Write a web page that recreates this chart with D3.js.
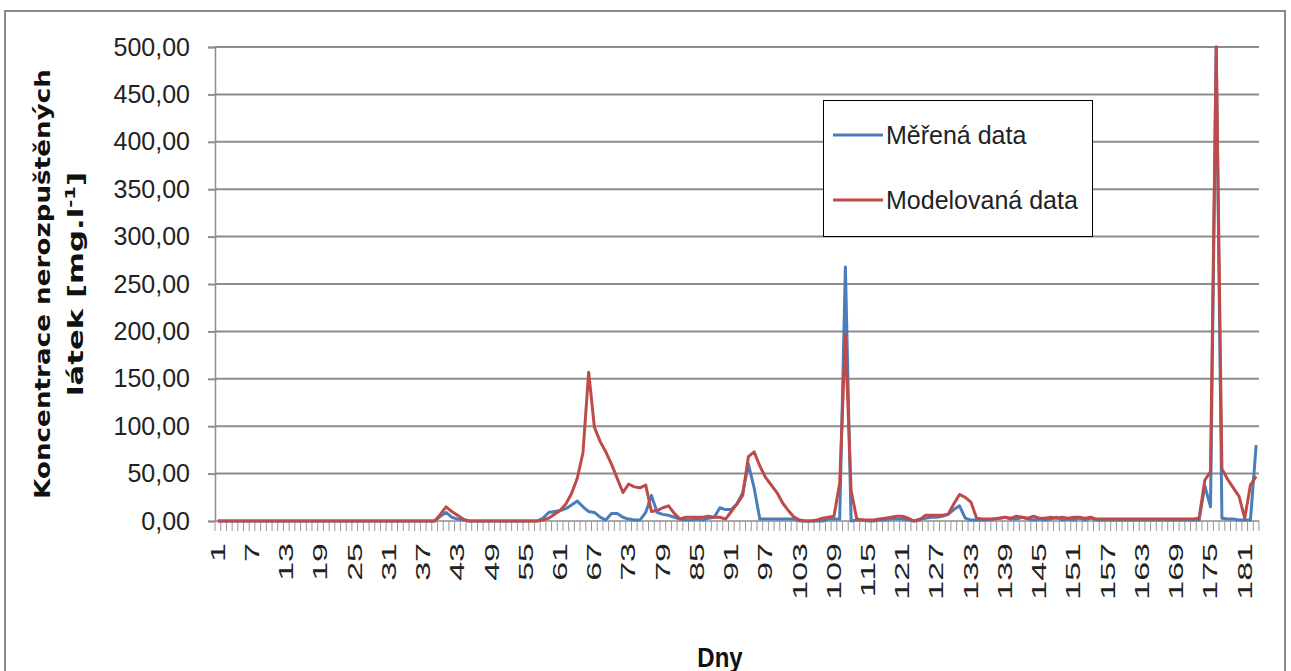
<!DOCTYPE html>
<html>
<head>
<meta charset="utf-8">
<script src="https://cdn.jsdelivr.net/npm/d3@7/dist/d3.min.js"></script>
<style>
  html, body { margin: 0; padding: 0; background: #fff; }
  svg { display: block; }
</style>
</head>
<body>
<svg id="chart" width="1291" height="671"></svg>
<script>
// Day numbers on the category axis
const days = d3.range(1, 184);
// Labelled days (every sixth day)
const dayLabels = [1, 7, 13, 19, 25, 31, 37, 43, 49, 55, 61, 67, 73, 79, 85, 91, 97, 103, 109, 115, 121, 127, 133, 139, 145, 151, 157, 163, 169, 175, 181];
// Value axis ticks
const yTicks = [0, 50, 100, 150, 200, 250, 300, 350, 400, 450, 500];

// Měřená data (measured suspended solids concentration, mg/l), days 1–183
const measured = [
  0, 0, 0, 0, 0, 0, 0, 0, 0, 0,
  0, 0, 0, 0, 0, 0, 0, 0, 0, 0,
  0, 0, 0, 0, 0, 0, 0, 0, 0, 0,
  0, 0, 0, 0, 0, 0, 0, 0, 0, 5,
  9, 4, 2, 1, 0, 0, 0, 0, 0, 0,
  0, 0, 0, 0, 0, 0, 0, 3, 9, 10,
  11, 13, 17, 21, 15, 10, 9, 4, 1, 8,
  8, 4, 2, 1, 1, 9, 27, 9, 7, 6,
  4, 2, 1, 1, 2, 1, 3, 4, 14, 12,
  12, 18, 30, 60, 35, 2, 2, 2, 2, 2,
  2, 2, 0, 0, 0, 0, 0, 2, 2, 2,
  268, 0, 1, 1, 0, 0, 1, 1, 2, 2,
  2, 1, 0, 2, 3, 4, 4, 5, 7, 12,
  16, 3, 1, 1, 1, 1, 2, 3, 4, 2,
  2, 4, 2, 1, 2, 1, 2, 4, 1, 2,
  1, 3, 1, 3, 1, 1, 1, 1, 1, 1,
  1, 1, 1, 1, 1, 1, 1, 1, 1, 1,
  1, 1, 1, 37, 15, 500, 3, 2, 2, 1,
  1, 1, 80
];

// Modelovaná data (modelled concentration, mg/l), days 1–183
const modelled = [
  0, 0, 0, 0, 0, 0, 0, 0, 0, 0,
  0, 0, 0, 0, 0, 0, 0, 0, 0, 0,
  0, 0, 0, 0, 0, 0, 0, 0, 0, 0,
  0, 0, 0, 0, 0, 0, 0, 0, 0, 7,
  15, 10, 6, 2, 0, 0, 0, 0, 0, 0,
  0, 0, 0, 0, 0, 0, 0, 1, 3, 7,
  11, 18, 29, 45, 72, 157, 99, 84, 73, 60,
  45, 30, 39, 36, 35, 38, 10, 11, 14, 16,
  8, 2, 4, 4, 4, 4, 5, 4, 4, 2,
  10, 18, 27, 68, 73, 58, 46, 38, 30, 19,
  11, 4, 1, 0, 0, 1, 3, 4, 5, 40,
  196, 32, 2, 1, 1, 1, 2, 3, 4, 5,
  5, 3, 0, 1, 6, 6, 6, 6, 7, 18,
  28, 25, 20, 3, 2, 2, 2, 3, 4, 3,
  5, 4, 3, 5, 3, 3, 4, 3, 4, 3,
  4, 4, 3, 4, 2, 2, 2, 2, 2, 2,
  2, 2, 2, 2, 2, 2, 2, 2, 2, 2,
  2, 2, 3, 43, 52, 500, 55, 44, 35, 26,
  3, 38, 47
];

const seriesNames = ["Měřená data", "Modelovaná data"];
const seriesColors = ["#4a7ebb", "#be4b48"];

const svg = d3.select("#chart");
const plot = { left: 215, right: 1259, top: 47, bottom: 521 };
const gridColor = "#8c8c8c";

// Outer chart frame
svg.append("rect")
  .attr("x", 5).attr("y", 11)
  .attr("width", 1280).attr("height", 700)
  .attr("fill", "#fff")
  .attr("stroke", "#8a8a8a").attr("stroke-width", 2);

const x = d3.scaleBand().domain(days).range([plot.left, plot.right]).padding(0);
const cx = d => x(d) + x.bandwidth() / 2;
const y = d3.scaleLinear().domain([0, 500]).range([plot.bottom, plot.top]);

// Horizontal gridlines
svg.append("g")
  .selectAll("line")
  .data(yTicks.filter(t => t > 0))
  .join("line")
  .attr("x1", plot.left).attr("x2", plot.right)
  .attr("y1", d => y(d)).attr("y2", d => y(d))
  .attr("stroke", gridColor).attr("stroke-width", 2);

// Value axis
const fmt = v => d3.format(".2f")(v).replace(".", ",");
const yAxis = svg.append("g")
  .attr("transform", `translate(${plot.left},0)`)
  .call(d3.axisLeft(y).tickValues(yTicks).tickSize(7).tickPadding(18).tickFormat(fmt));
yAxis.select(".domain").attr("stroke", gridColor).attr("stroke-width", 1.5);
yAxis.selectAll(".tick line").attr("stroke", gridColor).attr("stroke-width", 2);
yAxis.selectAll(".tick text")
  .attr("fill", "#222")
  .style("font-family", "'Liberation Sans', Arial, sans-serif")
  .style("font-size", "25px");

// Category axis line and tick marks between categories
const xAxis = svg.append("g");
xAxis.append("line")
  .attr("x1", plot.left).attr("x2", plot.right)
  .attr("y1", plot.bottom).attr("y2", plot.bottom)
  .attr("stroke", gridColor).attr("stroke-width", 1.5);
xAxis.selectAll("line.tk")
  .data(days.map(d => x(d)).concat([plot.right]))
  .join("line")
  .attr("class", "tk")
  .attr("x1", d => d).attr("x2", d => d)
  .attr("y1", plot.bottom).attr("y2", plot.bottom + 10)
  .attr("stroke", "#999").attr("stroke-width", 1);

// Rotated day labels
xAxis.selectAll("text")
  .data(dayLabels)
  .join("text")
  .attr("transform", d => `translate(${cx(d)},${plot.bottom + 22}) rotate(-90) scale(1.7,1)`)
  .attr("text-anchor", "end")
  .attr("dominant-baseline", "central")
  .attr("fill", "#222")
  .style("font-family", "'Liberation Sans', Arial, sans-serif")
  .style("font-size", "20px")
  .text(d => d);

// Series lines (modelled drawn on top)
const line = d3.line()
  .x((d, i) => cx(days[i]))
  .y(d => y(d));
[measured, modelled].forEach((vals, k) => {
  svg.append("path")
    .datum(vals)
    .attr("d", line)
    .attr("fill", "none")
    .attr("stroke", seriesColors[k])
    .attr("stroke-width", 3)
    .attr("stroke-linejoin", "round");
});

// Legend
const lg = svg.append("g");
lg.append("rect")
  .attr("x", 823.5).attr("y", 100.5)
  .attr("width", 269).attr("height", 136)
  .attr("fill", "#fff").attr("stroke", "#000").attr("stroke-width", 1);
const legendRows = [135, 200];
seriesNames.forEach((name, k) => {
  lg.append("line")
    .attr("x1", 833).attr("x2", 883)
    .attr("y1", legendRows[k]).attr("y2", legendRows[k])
    .attr("stroke", seriesColors[k]).attr("stroke-width", 3);
  lg.append("text")
    .attr("x", 886).attr("y", legendRows[k])
    .attr("dominant-baseline", "central")
    .attr("fill", "#222")
    .style("font-family", "'Liberation Sans', Arial, sans-serif")
    .style("font-size", "25px")
    .text(name);
});

// Axis titles
svg.append("text")
  .attr("transform", "translate(720,667) scale(1,1.15)")
  .attr("text-anchor", "middle")
  .attr("fill", "#111")
  .style("font-family", "'Liberation Sans', Arial, sans-serif")
  .style("font-size", "24px")
  .style("font-weight", "bold")
  .text("Dny");

const midY = (plot.top + plot.bottom) / 2;
function rotatedTitle(parts, baseX, targetLen) {
  const t = svg.append("text")
    .attr("text-anchor", "middle")
    .attr("fill", "#111")
    .style("font-family", "'DejaVu Sans', Verdana, sans-serif")
    .style("font-size", "22px")
    .style("font-weight", "bold");
  parts.forEach(p => {
    const s = t.append("tspan").text(p.text);
    if (p.sup) s.attr("baseline-shift", "super").style("font-size", "14px");
  });
  const w = t.node().getComputedTextLength();
  const k = targetLen / w;
  t.attr("transform", `translate(${baseX},${midY}) rotate(-90) scale(${k},1)`);
}
rotatedTitle([{ text: "Koncentrace nerozpuštěných" }], 50, 430);
rotatedTitle([{ text: "látek [mg.l" }, { text: "-1", sup: true }, { text: "]" }], 83, 224);
</script>
</body>
</html>
